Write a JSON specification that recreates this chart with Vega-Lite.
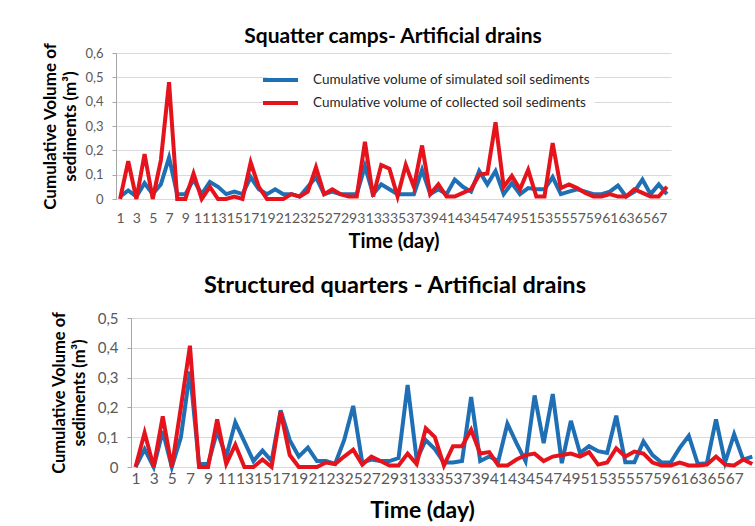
{
"$schema": "https://vega.github.io/schema/vega-lite/v6.json",
"padding": {"left": 41, "top": 26, "right": 0, "bottom": 0},
"config": {
  "font": "Lato",
  "view": {"stroke": null},
  "axis": {"labelFont": "Lato", "titleFont": "Lato", "labelColor": "#595959", "domainColor": "#a6a6a6", "tickColor": "#a6a6a6", "gridColor": "#d9d9d9", "titleColor": "#000000", "titleFontWeight": "bold"},
  "axisX": {"ticks": false, "grid": false, "labelOverlap": false, "labelFlush": false, "labelBound": false, "domainColor": "#d9d9d9", "labelAngle": 0},
  "axisY": {"tickSize": 4, "grid": true, "labelOverlap": false},
  "title": {"font": "Lato", "fontWeight": "bold", "color": "#000000"},
  "legend": {"labelFont": "Lato", "labelColor": "#262626", "symbolType": "M-2.5,0H2.5", "symbolStrokeWidth": 4, "fillColor": "white", "padding": 4, "title": null, "labelLimit": 0}
},
"datasets": {
"sq": [
{"d":1,"s":"simulated","v":0.01},{"d":2,"s":"simulated","v":0.035},{"d":3,"s":"simulated","v":0.01},{"d":4,"s":"simulated","v":0.065},{"d":5,"s":"simulated","v":0.02},{"d":6,"s":"simulated","v":0.06},{"d":7,"s":"simulated","v":0.17},{"d":8,"s":"simulated","v":0.02},{"d":9,"s":"simulated","v":0.02},{"d":10,"s":"simulated","v":0.08},
{"d":11,"s":"simulated","v":0.02},{"d":12,"s":"simulated","v":0.07},{"d":13,"s":"simulated","v":0.05},{"d":14,"s":"simulated","v":0.02},{"d":15,"s":"simulated","v":0.03},{"d":16,"s":"simulated","v":0.02},{"d":17,"s":"simulated","v":0.09},{"d":18,"s":"simulated","v":0.04},{"d":19,"s":"simulated","v":0.02},{"d":20,"s":"simulated","v":0.04},
{"d":21,"s":"simulated","v":0.02},{"d":22,"s":"simulated","v":0.02},{"d":23,"s":"simulated","v":0.01},{"d":24,"s":"simulated","v":0.05},{"d":25,"s":"simulated","v":0.09},{"d":26,"s":"simulated","v":0.02},{"d":27,"s":"simulated","v":0.03},{"d":28,"s":"simulated","v":0.02},{"d":29,"s":"simulated","v":0.02},{"d":30,"s":"simulated","v":0.02},
{"d":31,"s":"simulated","v":0.135},{"d":32,"s":"simulated","v":0.02},{"d":33,"s":"simulated","v":0.06},{"d":34,"s":"simulated","v":0.04},{"d":35,"s":"simulated","v":0.02},{"d":36,"s":"simulated","v":0.02},{"d":37,"s":"simulated","v":0.02},{"d":38,"s":"simulated","v":0.12},{"d":39,"s":"simulated","v":0.02},{"d":40,"s":"simulated","v":0.04},
{"d":41,"s":"simulated","v":0.02},{"d":42,"s":"simulated","v":0.08},{"d":43,"s":"simulated","v":0.05},{"d":44,"s":"simulated","v":0.03},{"d":45,"s":"simulated","v":0.115},{"d":46,"s":"simulated","v":0.06},{"d":47,"s":"simulated","v":0.115},{"d":48,"s":"simulated","v":0.02},{"d":49,"s":"simulated","v":0.065},{"d":50,"s":"simulated","v":0.02},
{"d":51,"s":"simulated","v":0.045},{"d":52,"s":"simulated","v":0.04},{"d":53,"s":"simulated","v":0.04},{"d":54,"s":"simulated","v":0.09},{"d":55,"s":"simulated","v":0.02},{"d":56,"s":"simulated","v":0.03},{"d":57,"s":"simulated","v":0.04},{"d":58,"s":"simulated","v":0.03},{"d":59,"s":"simulated","v":0.02},{"d":60,"s":"simulated","v":0.02},
{"d":61,"s":"simulated","v":0.03},{"d":62,"s":"simulated","v":0.055},{"d":63,"s":"simulated","v":0.01},{"d":64,"s":"simulated","v":0.03},{"d":65,"s":"simulated","v":0.08},{"d":66,"s":"simulated","v":0.02},{"d":67,"s":"simulated","v":0.06},{"d":68,"s":"simulated","v":0.02},
{"d":1,"s":"collected","v":0},{"d":2,"s":"collected","v":0.155},{"d":3,"s":"collected","v":0},{"d":4,"s":"collected","v":0.185},{"d":5,"s":"collected","v":0},{"d":6,"s":"collected","v":0.16},{"d":7,"s":"collected","v":0.48},{"d":8,"s":"collected","v":0},{"d":9,"s":"collected","v":0},{"d":10,"s":"collected","v":0.105},
{"d":11,"s":"collected","v":0},{"d":12,"s":"collected","v":0.05},{"d":13,"s":"collected","v":0},{"d":14,"s":"collected","v":0},{"d":15,"s":"collected","v":0.01},{"d":16,"s":"collected","v":0},{"d":17,"s":"collected","v":0.15},{"d":18,"s":"collected","v":0.05},{"d":19,"s":"collected","v":0},{"d":20,"s":"collected","v":0},
{"d":21,"s":"collected","v":0},{"d":22,"s":"collected","v":0.02},{"d":23,"s":"collected","v":0.01},{"d":24,"s":"collected","v":0.03},{"d":25,"s":"collected","v":0.13},{"d":26,"s":"collected","v":0.02},{"d":27,"s":"collected","v":0.04},{"d":28,"s":"collected","v":0.02},{"d":29,"s":"collected","v":0.01},{"d":30,"s":"collected","v":0.01},
{"d":31,"s":"collected","v":0.235},{"d":32,"s":"collected","v":0.01},{"d":33,"s":"collected","v":0.14},{"d":34,"s":"collected","v":0.125},{"d":35,"s":"collected","v":0.01},{"d":36,"s":"collected","v":0.14},{"d":37,"s":"collected","v":0.05},{"d":38,"s":"collected","v":0.22},{"d":39,"s":"collected","v":0.02},{"d":40,"s":"collected","v":0.06},
{"d":41,"s":"collected","v":0.01},{"d":42,"s":"collected","v":0.01},{"d":43,"s":"collected","v":0.025},{"d":44,"s":"collected","v":0.04},{"d":45,"s":"collected","v":0.1},{"d":46,"s":"collected","v":0.105},{"d":47,"s":"collected","v":0.315},{"d":48,"s":"collected","v":0.05},{"d":49,"s":"collected","v":0.095},{"d":50,"s":"collected","v":0.04},
{"d":51,"s":"collected","v":0.12},{"d":52,"s":"collected","v":0.01},{"d":53,"s":"collected","v":0.01},{"d":54,"s":"collected","v":0.23},{"d":55,"s":"collected","v":0.045},{"d":56,"s":"collected","v":0.06},{"d":57,"s":"collected","v":0.045},{"d":58,"s":"collected","v":0.025},{"d":59,"s":"collected","v":0.01},{"d":60,"s":"collected","v":0.01},
{"d":61,"s":"collected","v":0.02},{"d":62,"s":"collected","v":0.01},{"d":63,"s":"collected","v":0.01},{"d":64,"s":"collected","v":0.04},{"d":65,"s":"collected","v":0.025},{"d":66,"s":"collected","v":0.01},{"d":67,"s":"collected","v":0.01},{"d":68,"s":"collected","v":0.05}
],
"st": [
{"d":1,"s":"simulated","v":0},{"d":2,"s":"simulated","v":0.06},{"d":3,"s":"simulated","v":0},{"d":4,"s":"simulated","v":0.12},{"d":5,"s":"simulated","v":0},{"d":6,"s":"simulated","v":0.1},{"d":7,"s":"simulated","v":0.32},{"d":8,"s":"simulated","v":0.01},{"d":9,"s":"simulated","v":0.01},{"d":10,"s":"simulated","v":0.12},
{"d":11,"s":"simulated","v":0.035},{"d":12,"s":"simulated","v":0.15},{"d":13,"s":"simulated","v":0.085},{"d":14,"s":"simulated","v":0.02},{"d":15,"s":"simulated","v":0.055},{"d":16,"s":"simulated","v":0.02},{"d":17,"s":"simulated","v":0.19},{"d":18,"s":"simulated","v":0.09},{"d":19,"s":"simulated","v":0.035},{"d":20,"s":"simulated","v":0.065},
{"d":21,"s":"simulated","v":0.02},{"d":22,"s":"simulated","v":0.02},{"d":23,"s":"simulated","v":0.01},{"d":24,"s":"simulated","v":0.09},{"d":25,"s":"simulated","v":0.205},{"d":26,"s":"simulated","v":0.015},{"d":27,"s":"simulated","v":0.025},{"d":28,"s":"simulated","v":0.02},{"d":29,"s":"simulated","v":0.02},{"d":30,"s":"simulated","v":0.03},
{"d":31,"s":"simulated","v":0.275},{"d":32,"s":"simulated","v":0.025},{"d":33,"s":"simulated","v":0.09},{"d":34,"s":"simulated","v":0.06},{"d":35,"s":"simulated","v":0.015},{"d":36,"s":"simulated","v":0.015},{"d":37,"s":"simulated","v":0.02},{"d":38,"s":"simulated","v":0.235},{"d":39,"s":"simulated","v":0.02},{"d":40,"s":"simulated","v":0.035},
{"d":41,"s":"simulated","v":0.02},{"d":42,"s":"simulated","v":0.145},{"d":43,"s":"simulated","v":0.08},{"d":44,"s":"simulated","v":0.02},{"d":45,"s":"simulated","v":0.24},{"d":46,"s":"simulated","v":0.08},{"d":47,"s":"simulated","v":0.245},{"d":48,"s":"simulated","v":0.013},{"d":49,"s":"simulated","v":0.155},{"d":50,"s":"simulated","v":0.047},
{"d":51,"s":"simulated","v":0.07},{"d":52,"s":"simulated","v":0.053},{"d":53,"s":"simulated","v":0.047},{"d":54,"s":"simulated","v":0.172},{"d":55,"s":"simulated","v":0.016},{"d":56,"s":"simulated","v":0.016},{"d":57,"s":"simulated","v":0.086},{"d":58,"s":"simulated","v":0.04},{"d":59,"s":"simulated","v":0.015},{"d":60,"s":"simulated","v":0.015},
{"d":61,"s":"simulated","v":0.064},{"d":62,"s":"simulated","v":0.105},{"d":63,"s":"simulated","v":0.01},{"d":64,"s":"simulated","v":0.013},{"d":65,"s":"simulated","v":0.16},{"d":66,"s":"simulated","v":0.015},{"d":67,"s":"simulated","v":0.11},{"d":68,"s":"simulated","v":0.025},{"d":69,"s":"simulated","v":0.035},
{"d":1,"s":"collected","v":0},{"d":2,"s":"collected","v":0.115},{"d":3,"s":"collected","v":0},{"d":4,"s":"collected","v":0.17},{"d":5,"s":"collected","v":0},{"d":6,"s":"collected","v":0.2},{"d":7,"s":"collected","v":0.407},{"d":8,"s":"collected","v":0},{"d":9,"s":"collected","v":0},{"d":10,"s":"collected","v":0.16},
{"d":11,"s":"collected","v":0.01},{"d":12,"s":"collected","v":0.075},{"d":13,"s":"collected","v":0},{"d":14,"s":"collected","v":0},{"d":15,"s":"collected","v":0.025},{"d":16,"s":"collected","v":0},{"d":17,"s":"collected","v":0.185},{"d":18,"s":"collected","v":0.04},{"d":19,"s":"collected","v":0},{"d":20,"s":"collected","v":0},
{"d":21,"s":"collected","v":0},{"d":22,"s":"collected","v":0.015},{"d":23,"s":"collected","v":0.01},{"d":24,"s":"collected","v":0.035},{"d":25,"s":"collected","v":0.058},{"d":26,"s":"collected","v":0.008},{"d":27,"s":"collected","v":0.035},{"d":28,"s":"collected","v":0.02},{"d":29,"s":"collected","v":0.005},{"d":30,"s":"collected","v":0.005},
{"d":31,"s":"collected","v":0.045},{"d":32,"s":"collected","v":0.01},{"d":33,"s":"collected","v":0.13},{"d":34,"s":"collected","v":0.1},{"d":35,"s":"collected","v":0.005},{"d":36,"s":"collected","v":0.07},{"d":37,"s":"collected","v":0.07},{"d":38,"s":"collected","v":0.125},{"d":39,"s":"collected","v":0.045},{"d":40,"s":"collected","v":0.05},
{"d":41,"s":"collected","v":0.005},{"d":42,"s":"collected","v":0.005},{"d":43,"s":"collected","v":0.025},{"d":44,"s":"collected","v":0.04},{"d":45,"s":"collected","v":0.045},{"d":46,"s":"collected","v":0.02},{"d":47,"s":"collected","v":0.035},{"d":48,"s":"collected","v":0.04},{"d":49,"s":"collected","v":0.045},{"d":50,"s":"collected","v":0.035},
{"d":51,"s":"collected","v":0.05},{"d":52,"s":"collected","v":0.008},{"d":53,"s":"collected","v":0.015},{"d":54,"s":"collected","v":0.063},{"d":55,"s":"collected","v":0.035},{"d":56,"s":"collected","v":0.052},{"d":57,"s":"collected","v":0.045},{"d":58,"s":"collected","v":0.015},{"d":59,"s":"collected","v":0.005},{"d":60,"s":"collected","v":0.005},
{"d":61,"s":"collected","v":0.015},{"d":62,"s":"collected","v":0.005},{"d":63,"s":"collected","v":0.005},{"d":64,"s":"collected","v":0.008},{"d":65,"s":"collected","v":0.035},{"d":66,"s":"collected","v":0.008},{"d":67,"s":"collected","v":0.005},{"d":68,"s":"collected","v":0.025},{"d":69,"s":"collected","v":0.01}
]
},
"spacing": 23,
"vconcat": [
{
  "data": {"name": "sq"},
  "width": 540,
  "height": 146,
  "title": {"text": "Squatter camps- Artificial drains", "fontSize": 21, "offset": -5, "dx": -8},
  "mark": {"type": "line", "strokeWidth": 4},
  "encoding": {
    "x": {"field": "d", "type": "quantitative", "scale": {"domain": [0.5, 68.5], "range": [-15, 540], "nice": false, "zero": false},
      "axis": {"title": "Time (day)", "values": [1,3,5,7,9,11,13,15,17,19,21,23,25,27,29,31,33,35,37,39,41,43,45,47,49,51,53,55,57,59,61,63,65,67], "labelFontSize": 14, "labelPadding": 12, "titleFontSize": 20, "titlePadding": 6}},
    "y": {"field": "v", "type": "quantitative", "scale": {"domain": [0, 0.6], "nice": false},
      "axis": {"offset": 15, "title": ["Cumulative Volume of", "sediments (m³)"], "values": [0,0.1,0.2,0.3,0.4,0.5,0.6], "labelExpr": "datum.value == 0 ? '0' : replace(format(datum.value, '.1f'), '.', ',')", "labelFontSize": 13, "labelPadding": 9, "titleFontSize": 17, "titleLineHeight": 20, "titlePadding": 5}},
    "color": {"field": "s", "type": "nominal", "scale": {"domain": ["simulated", "collected"], "range": ["#1f6fb5", "#e5141c"]},
      "legend": {"orient": "none", "legendX": 136.5, "legendY": 14, "symbolSize": 196, "labelFontSize": 13.5, "labelOffset": 23.5, "rowPadding": 6, "labelExpr": "'Cumulative volume of ' + datum.label + ' soil sediments'"}}
  }
},
{
  "data": {"name": "st"},
  "width": 624,
  "height": 149,
  "title": {"text": "Structured quarters - Artificial drains", "fontSize": 23.5, "offset": 13.5, "dx": -48},
  "mark": {"type": "line", "strokeWidth": 4},
  "encoding": {
    "x": {"field": "d", "type": "quantitative", "scale": {"domain": [0.5, 69.3], "nice": false, "zero": false},
      "axis": {"title": "Time (day)", "values": [1,3,5,7,9,11,13,15,17,19,21,23,25,27,29,31,33,35,37,39,41,43,45,47,49,51,53,55,57,59,61,63,65,67], "labelFontSize": 15.5, "labelPadding": 4.5, "titleFontSize": 23, "titlePadding": 12, "titleX": 291}},
    "y": {"field": "v", "type": "quantitative", "scale": {"domain": [0, 0.5], "nice": false},
      "axis": {"title": ["Cumulative Volume of", "sediments (m³)"], "values": [0,0.1,0.2,0.3,0.4,0.5], "labelExpr": "datum.value == 0 ? '0' : replace(format(datum.value, '.1f'), '.', ',')", "labelFontSize": 15, "labelPadding": 9, "titleFontSize": 16.5, "titleLineHeight": 20, "titlePadding": 10}},
    "color": {"field": "s", "type": "nominal", "scale": {"domain": ["simulated", "collected"], "range": ["#1f6fb5", "#e5141c"]},
      "legend": {"orient": "none", "legendX": 164, "legendY": -8.5, "symbolSize": 219, "labelFontSize": 15, "labelOffset": 24, "rowPadding": 4, "labelExpr": "'Cumulative volume of ' + datum.label + ' soil sediments'"}}
  }
}
]
}
